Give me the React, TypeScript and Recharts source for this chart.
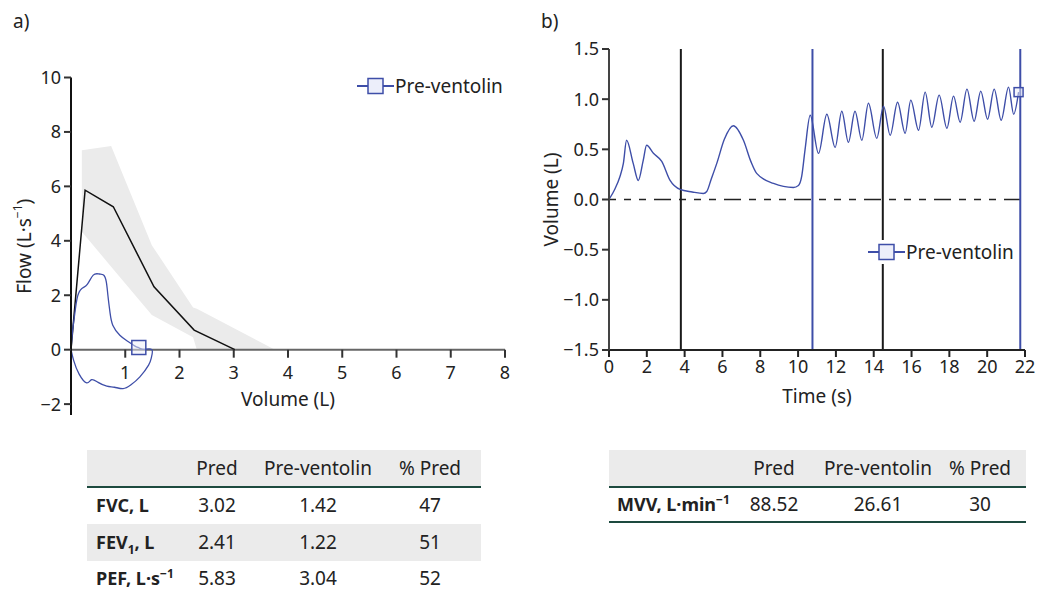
import {
  ComposedChart, Line, Area, Scatter, XAxis, YAxis, ReferenceLine, Legend, Label,
} from "recharts";

const FONT = "'Noto Sans', 'Open Sans', sans-serif";
const BLUE = "#3e4ea8";
const INK = "#222";
const GREY_FILL = "#ebebeb";
const TABLE_LINE = "#1d4a3f";
const TEXT_SIZE = 19;
const TICK_SIZE = 18;

// a) flow-volume loop
const FLOW_MIN = -2.4;
const FLOW_MAX = 10;
const flowTicks = [-2, 0, 2, 4, 6, 8, 10];
const volumeTicks = [1, 2, 3, 4, 5, 6, 7, 8];
const predVolume = [0, 0.26, 0.78, 1.53, 2.27, 3.02];
const predFlow = [0, 5.86, 5.25, 2.31, 0.72, 0];
const bandVolume = [0.2, 0.74, 1.49, 2.25, 2.32, 3.76];
const bandLow = [4.33, 3.05, 1.27, 0.46, 0, 0];
const bandHigh = [7.33, 7.48, 3.84, 1.55, 1.5, 0];
const loopVolume = [0, 0.03, 0.07, 0.12, 0.2, 0.3, 0.41, 0.52, 0.6, 0.65, 0.68, 0.72, 0.77, 0.9, 1.05, 1.18, 1.26, 1.35, 1.49, 1.48, 1.43, 1.27, 1.1, 0.96, 0.8, 0.66, 0.5, 0.38, 0.29, 0.15, 0.05, 0];
const loopFlow = [0, 0.7, 1.33, 1.95, 2.25, 2.4, 2.74, 2.78, 2.74, 2.5, 2.0, 1.35, 0.9, 0.53, 0.3, 0.13, 0.06, 0.01, 0, -0.3, -0.57, -1.0, -1.3, -1.43, -1.38, -1.34, -1.2, -1.1, -1.22, -0.9, -0.4, 0];
const markerVolume = [1.25];
const markerFlow = [0.08];

// b) MVV volume-time trace
const timeTicks = [0, 2, 4, 6, 8, 10, 12, 14, 16, 18, 20, 22];
const volTicks = [-1.5, -1, -0.5, 0, 0.5, 1, 1.5];
const traceTime = [0, 0.3, 0.58, 0.76, 0.93, 1.28, 1.55, 1.81, 1.99, 2.35, 2.79, 3.23, 3.76, 4.4, 4.99, 5.17, 5.4, 5.7, 6.1, 6.58, 7.11, 7.5, 7.81, 8.7, 9.75, 10.02, 10.19, 10.37, 10.64,
  11.08, 11.52, 11.96, 12.31, 12.66, 13.01, 13.37, 13.72, 14.16, 14.52, 14.87, 15.26, 15.66, 15.96, 16.37, 16.72, 17.07, 17.46, 17.87, 18.22, 18.57, 18.93, 19.31, 19.66, 20.02, 20.37, 20.74, 21.13, 21.4, 21.66];
const traceVol = [0, 0.1, 0.23, 0.36, 0.59, 0.36, 0.19, 0.39, 0.54, 0.46, 0.38, 0.19, 0.1, 0.075, 0.06, 0.08, 0.2, 0.36, 0.6, 0.735, 0.59, 0.38, 0.26, 0.16, 0.12, 0.14, 0.23, 0.5, 0.84,
  0.46, 0.85, 0.52, 0.88, 0.57, 0.88, 0.59, 0.96, 0.61, 0.93, 0.64, 0.97, 0.66, 0.99, 0.69, 1.07, 0.72, 1.04, 0.71, 1.03, 0.77, 1.1, 0.78, 1.08, 0.8, 1.1, 0.79, 1.12, 0.85, 1.07];
const markerTime = [21.66];
const markerVol = [1.07];
const blackLines = [3.8, 14.48];
const blueLines = [10.76, 21.75];

// tables
const specCols = ["Pred", "Pre-ventolin", "% Pred"];
const specRows = ["FVC", "FEV1", "PEF"];
const specPred = ["3.02", "2.41", "5.83"];
const specPre = ["1.42", "1.22", "3.04"];
const specPct = ["47", "51", "52"];
const mvvPred = ["88.52"];
const mvvPre = ["26.61"];
const mvvPct = ["30"];

const predData = predVolume.map((x, i) => ({ x, y: predFlow[i] }));
const bandData = bandVolume.map((x, i) => ({ x, band: [bandLow[i], bandHigh[i]] }));
const loopData = loopVolume.map((x, i) => ({ x, y: loopFlow[i] }));
const markerAData = markerVolume.map((x, i) => ({ x, y: markerFlow[i] }));
const traceData = traceTime.map((x, i) => ({ x, y: traceVol[i] }));
const markerBData = markerTime.map((x, i) => ({ x, y: markerVol[i] }));

const A_H = 445;
const A_X_AXIS_H = 30;
const A_MARGIN = { top: 77.5, right: 15, bottom: 0, left: 0 };
const A_PLOT_H = A_H - A_MARGIN.top - A_MARGIN.bottom - A_X_AXIS_H;
const zeroShiftA = (A_PLOT_H * (0 - FLOW_MIN)) / (FLOW_MAX - FLOW_MIN);

const minus = (s: string) => s.replace("-", "\u2212");
const tickStyle = { fill: INK, fontSize: TICK_SIZE, fontFamily: FONT };

function VolumeTick(props: any) {
  const { x, y, payload } = props;
  const y0 = y - zeroShiftA;
  return (
    <g>
      <line x1={x} x2={x} y1={y0} y2={y0 + 8} stroke="#333" strokeWidth={2} />
      <text x={x} y={y0 + 22} textAnchor="middle" dominantBaseline="central" {...tickStyle}>
        {payload.value}
      </text>
    </g>
  );
}

function square(size: number) {
  return (props: any) => (
    <rect x={props.cx - size / 2} y={props.cy - size / 2} width={size} height={size}
      fill="#eceefa" fillOpacity={0.5} stroke={BLUE} strokeWidth={1.5} />
  );
}

function LegendEntry({ white }: { white?: boolean }) {
  return (
    <div style={{ display: "flex", alignItems: "center", height: 24, background: white ? "#fff" : "transparent", fontFamily: FONT, fontSize: TEXT_SIZE, color: INK }}>
      <svg width={37} height={24}>
        <line x1={0} x2={37} y1={12} y2={12} stroke={BLUE} strokeWidth={2} />
        <rect x={11} y={4.5} width={15} height={15} fill="#eceefa" stroke={BLUE} strokeWidth={1.5} />
      </svg>
      <span style={{ marginLeft: 1 }}>Pre-ventolin</span>
    </div>
  );
}

function FlowVolumeChart() {
  return (
    <ComposedChart width={520} height={A_H} margin={A_MARGIN}>
      <XAxis dataKey="x" type="number" domain={[0, 8]} ticks={volumeTicks} allowDataOverflow
        height={A_X_AXIS_H} axisLine={false} tickLine={false} tickSize={0} tickMargin={0} tick={VolumeTick}>
        <Label content={(p: any) => (
          <text x={p.viewBox.x + p.viewBox.width / 2} y={p.viewBox.y - zeroShiftA + 49}
            textAnchor="middle" dominantBaseline="central" fill={INK} fontSize={TEXT_SIZE} fontFamily={FONT}>Volume (L)</text>
        )} />
      </XAxis>
      <YAxis type="number" domain={[FLOW_MIN, FLOW_MAX]} ticks={flowTicks} width={71} allowDataOverflow
        axisLine={{ stroke: "#111", strokeWidth: 2 }} tickLine={{ stroke: "#333", strokeWidth: 2 }}
        tickSize={7} tickMargin={3} tick={tickStyle} tickFormatter={(v: number) => minus(String(v))}>
        <Label content={(p: any) => (
          <text transform={`translate(${p.viewBox.x + 24},${p.viewBox.y + p.viewBox.height / 2}) rotate(-90)`}
            textAnchor="middle" dominantBaseline="central" fill={INK} fontSize={TEXT_SIZE} fontFamily={FONT}>
            Flow (L·s<tspan dy={-7} fontSize={12}>−1</tspan><tspan dy={7}>)</tspan>
          </text>
        )} />
      </YAxis>
      <Area data={bandData} dataKey="band" type="linear" fill={GREY_FILL} fillOpacity={1} stroke="none" isAnimationActive={false} />
      <ReferenceLine y={0} stroke="#666" strokeWidth={2} />
      <Line data={predData} dataKey="y" type="linear" stroke="#111" strokeWidth={1.5} dot={false} isAnimationActive={false} />
      <Line data={loopData} dataKey="y" type="natural" stroke={BLUE} strokeWidth={1.3} dot={false} isAnimationActive={false} />
      <Scatter data={markerAData} dataKey="y" shape={square(14)} isAnimationActive={false} />
      <Legend layout="vertical" align="center" verticalAlign="middle" content={() => <LegendEntry />}
        wrapperStyle={{ left: 357, top: 74, width: "auto" }} />
    </ComposedChart>
  );
}

function VolumeTimeChart() {
  return (
    <ComposedChart width={517} height={430} margin={{ top: 49, right: 12, bottom: 20, left: 39 }}>
      <XAxis dataKey="x" type="number" domain={[0, 22]} ticks={timeTicks} height={60} allowDataOverflow
        axisLine={{ stroke: "#222", strokeWidth: 2 }} tickLine={{ stroke: "#222", strokeWidth: 2 }}
        tickSize={7} tickMargin={3} tick={tickStyle}>
        <Label value="Time (s)" position="insideTop" offset={40} fill={INK} fontSize={TEXT_SIZE} fontFamily={FONT} />
      </XAxis>
      <YAxis type="number" domain={[-1.5, 1.5]} ticks={volTicks} width={50} allowDataOverflow
        axisLine={{ stroke: "#444", strokeWidth: 2 }} tickLine={{ stroke: "#333", strokeWidth: 2 }}
        tickSize={7} tickMargin={3} tick={tickStyle} tickFormatter={(v: number) => minus(v.toFixed(1))}>
        <Label content={(p: any) => (
          <text transform={`translate(${p.viewBox.x - 8},${p.viewBox.y + p.viewBox.height / 2}) rotate(-90)`}
            textAnchor="middle" dominantBaseline="central" fill={INK} fontSize={TEXT_SIZE} fontFamily={FONT}>Volume (L)</text>
        )} />
      </YAxis>
      <ReferenceLine y={0} stroke="#222" strokeWidth={1.5} strokeDasharray="7 8 7 8 7 8 17 8" />
      {blackLines.map((t) => (
        <ReferenceLine key={"k" + t} x={t} stroke="#1a1a1a" strokeWidth={2} />
      ))}
      {blueLines.map((t) => (
        <ReferenceLine key={"b" + t} x={t} stroke={BLUE} strokeWidth={2} />
      ))}
      <Line data={traceData} dataKey="y" type="monotone" stroke={BLUE} strokeWidth={1.4} dot={false} isAnimationActive={false} />
      <Scatter data={markerBData} dataKey="y" shape={square(9)} isAnimationActive={false} />
      <Legend layout="vertical" align="center" verticalAlign="middle" content={() => <LegendEntry white />}
        wrapperStyle={{ left: 348, top: 240, width: "auto" }} />
    </ComposedChart>
  );
}

const supStyle: React.CSSProperties = { fontSize: 12, position: "relative", top: -7 };
const subStyle: React.CSSProperties = { fontSize: 12, position: "relative", top: 5 };

function RowLabel({ name }: { name: string }) {
  if (name === "FVC") return <>FVC, L</>;
  if (name === "FEV1") return <>FEV<span style={subStyle}>1</span>, L</>;
  if (name === "PEF") return <>PEF, L·s<span style={supStyle}>−1</span></>;
  return <>MVV, L·min<span style={supStyle}>−1</span></>;
}

const cell: React.CSSProperties = { position: "absolute", transform: "translateX(-50%)", whiteSpace: "nowrap", lineHeight: "22px" };
const rowLabel: React.CSSProperties = { position: "absolute", fontWeight: 700, fontSize: 18, whiteSpace: "nowrap", lineHeight: "22px" };

function SpecTable() {
  const centers = [217, 318, 430];
  return (
    <div style={{ position: "absolute", left: 87, top: 450, width: 394, height: 140, fontFamily: FONT, fontSize: TEXT_SIZE, color: INK }}>
      <div style={{ position: "absolute", left: 0, top: 0, width: 394, height: 36, background: GREY_FILL, borderBottom: `2.5px solid ${TABLE_LINE}` }} />
      <div style={{ position: "absolute", left: 0, top: 74, width: 394, height: 37, background: GREY_FILL }} />
      {specCols.map((c, i) => (
        <div key={c} style={{ ...cell, left: centers[i] - 87, top: 7 }}>{c}</div>
      ))}
      {specRows.map((r, j) => (
        <div key={r}>
          <div style={{ ...rowLabel, left: 9, top: 44 + j * 36.5 }}><RowLabel name={r} /></div>
          <div style={{ ...cell, left: centers[0] - 87, top: 44 + j * 36.5 }}>{specPred[j]}</div>
          <div style={{ ...cell, left: centers[1] - 87, top: 44 + j * 36.5 }}>{specPre[j]}</div>
          <div style={{ ...cell, left: centers[2] - 87, top: 44 + j * 36.5 }}>{specPct[j]}</div>
        </div>
      ))}
    </div>
  );
}

function MvvTable() {
  const centers = [774, 878, 980];
  return (
    <div style={{ position: "absolute", left: 609, top: 450, width: 417, height: 74, fontFamily: FONT, fontSize: TEXT_SIZE, color: INK }}>
      <div style={{ position: "absolute", left: 0, top: 0, width: 417, height: 36, background: GREY_FILL, borderBottom: `2.5px solid ${TABLE_LINE}` }} />
      <div style={{ position: "absolute", left: 0, top: 71, width: 417, height: 0, borderBottom: `2.5px solid ${TABLE_LINE}` }} />
      {specCols.map((c, i) => (
        <div key={c} style={{ ...cell, left: centers[i] - 609, top: 7 }}>{c}</div>
      ))}
      <div style={{ ...rowLabel, left: 8, top: 43 }}><RowLabel name="MVV" /></div>
      <div style={{ ...cell, left: centers[0] - 609, top: 43 }}>{mvvPred[0]}</div>
      <div style={{ ...cell, left: centers[1] - 609, top: 43 }}>{mvvPre[0]}</div>
      <div style={{ ...cell, left: centers[2] - 609, top: 43 }}>{mvvPct[0]}</div>
    </div>
  );
}

export default function App() {
  return (
    <div style={{ position: "absolute", left: 0, top: 0, width: 1037, height: 590, background: "#fff", fontFamily: FONT, overflow: "hidden" }}>
      <div style={{ position: "absolute", left: 0, top: 0 }}>
        <FlowVolumeChart />
      </div>
      <div style={{ position: "absolute", left: 520, top: 0 }}>
        <VolumeTimeChart />
      </div>
      <div style={{ position: "absolute", left: 13, top: 8, fontSize: TEXT_SIZE, color: INK }}>a)</div>
      <div style={{ position: "absolute", left: 541, top: 8, fontSize: TEXT_SIZE, color: INK }}>b)</div>
      <SpecTable />
      <MvvTable />
    </div>
  );
}
